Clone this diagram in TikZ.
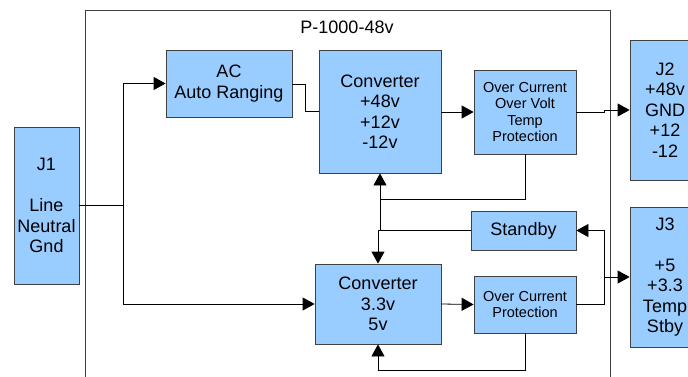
\documentclass[tikz,border=0pt]{standalone}
\usepackage{fontspec}
\setmainfont{Liberation Sans}
\usetikzlibrary{arrows.meta}
\definecolor{boxblue}{HTML}{99CCFF}
\definecolor{edgegray}{HTML}{404040}
\begin{document}
\begin{tikzpicture}[x=1pt,y=-1pt,
  blk/.style={draw=edgegray,fill=boxblue,line width=0.8pt,inner sep=0pt,align=center,
              font=\fontsize{18}{20.5}\selectfont},
  sblk/.style={blk,font=\fontsize{14.5}{16.5}\selectfont},
  conn/.style={draw=black,line width=0.8pt},
  arr/.style={conn,-{Triangle[length=12pt,width=13pt]}},
  frame/.style={draw=edgegray,line width=0.8pt}
]
\useasboundingbox (0,0) rectangle (688,377);
\fill[white] (0,0) rectangle (688,377);
% outer frame
\draw[frame] (85,385) -- (85,10) -- (610,10) -- (610,385);
\node[font=\fontsize{18}{20.5}\selectfont] (title) at (347,27) {P-1000-48v};
% blocks
\node[blk,minimum width=65pt,minimum height=157pt] (j1) at (46.5,205.5) {J1\\\mbox{}\\Line\\Neutral\\Gnd};
\node[blk,minimum width=126pt,minimum height=67pt] (ac) at (229,83.5) {AC\\Auto Ranging};
\node[blk,minimum width=122pt,minimum height=123pt] (c1) at (380,111.5) {Converter\\+48v\\+12v\\-12v};
\node[sblk,minimum width=102pt,minimum height=84pt] (oc1) at (525,112) {Over Current\\Over Volt\\Temp\\Protection};
\node[blk,minimum width=70pt,minimum height=140pt] (j2) at (665,110) {J2\\+48v\\GND\\+12\\-12};
\node[blk,minimum width=105pt,minimum height=39pt] (sb) at (523.5,230.5) {Standby};
\node[blk,minimum width=126pt,minimum height=80pt] (c2) at (378,304) {Converter\\3.3v\\5v};
\node[sblk,minimum width=102pt,minimum height=57pt] (oc2) at (525,304.5) {Over Current\\Protection};
\node[blk,minimum width=70pt,minimum height=140pt] (j3) at (665,277) {J3\\\mbox{}\\+5\\+3.3\\Temp\\Stby};
% junction coordinates
\coordinate (ja) at (123,205.5);
\coordinate (jb) at (305,84);
\coordinate (jc) at (604,112);
\coordinate (jd) at (380,199);
\coordinate (je) at (604,304.5);
\coordinate (jf) at (525,370);
% connectors
\draw[conn] (j1.east |- ja) -- (ja);
\draw[arr] (ja) |- (ac.west);
\draw[arr] (ja) |- (c2.west);
\draw[conn] (ac.east |- jb) -- (jb) |- (c1.west);
\draw[arr] (c1.east |- oc1.west) -- (oc1.west);
\draw[arr] (oc1.east) -- (jc) |- (j2.west);
\draw[arr] (oc1.south) |- (jd) -- (c1.south);
\draw[conn] (jd) -- (380,230.5);
\draw[arr] (sb.west) -| (c2.north);
\draw[arr] (c2.east) -- (oc2.west);
\draw[arr] (oc2.east) -- (je) |- (sb.east);
\draw[arr] (je |- j3.west) -- (j3.west);
\draw[arr] (oc2.south) -- (jf) -| (c2.south);
\end{tikzpicture}
\end{document}
